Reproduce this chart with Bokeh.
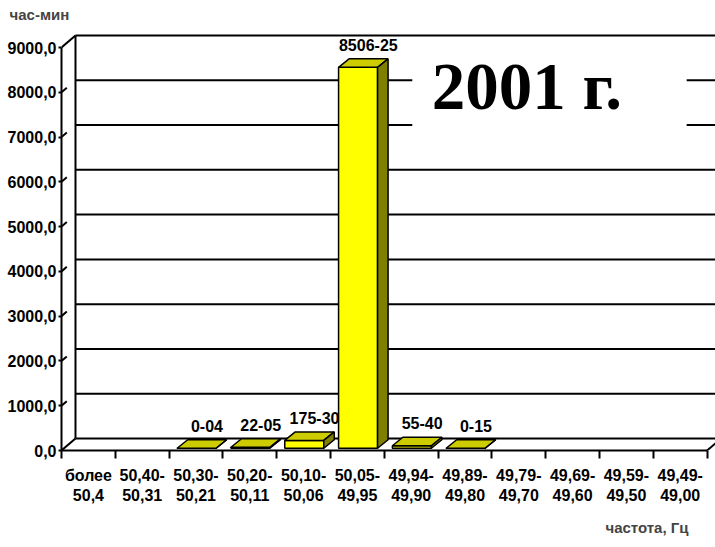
from bokeh.plotting import figure
from bokeh.models import FixedTicker, Label, BoxAnnotation, ColumnDataSource, Range1d, Title
from bokeh.core.properties import value
from bokeh.embed import file_html
from bokeh.resources import INLINE

# frequency bands (two-line category labels)
band_top = ["более", "50,40-", "50,30-", "50,20-", "50,10-", "50,05-",
            "49,94-", "49,89-", "49,79-", "49,69-", "49,59-", "49,49-"]
band_bottom = ["50,4", "50,31", "50,21", "50,11", "50,06", "49,95",
               "49,90", "49,80", "49,70", "49,60", "49,50", "49,00"]

# time spent in each band, hours and minutes (None = no bar)
hours = [None, None, 0, 22, 175, 8506, 55, 0, None, None, None, None]
minutes = [None, None, 4, 5, 30, 25, 40, 15, None, None, None, None]

y_ticks = [0, 1000, 2000, 3000, 4000, 5000, 6000, 7000, 8000, 9000]
y_max = 9000

FONT = "Liberation Sans"

# plot frame: top edge and vertical scale (px per hour)
FRAME_TOP = 24
PX_PER_UNIT = 403 / 9000
FRAME_BOTTOM = 450

# 3-D projection offsets (in data units)
DX, DY = 0.26, 268          # depth of the floor / walls
BX, BY = 0.04, 50           # bar set back from the front plane
BDX, BDY = 0.195, 190       # bar depth
BAR_L, BAR_W = 0.11, 0.725  # bar front face position within its category

n = len(band_top)

p = figure(width=715, height=547, output_backend="svg", toolbar_location=None,
           x_range=Range1d(0, 12.156),
           y_range=Range1d(0, (FRAME_BOTTOM - FRAME_TOP) / PX_PER_UNIT),
           min_border_left=61, min_border_right=0, min_border_top=FRAME_TOP,
           min_border_bottom=547 - FRAME_BOTTOM)
p.outline_line_color = None
p.grid.visible = False
p.background_fill_color = "white"
p.border_fill_color = "white"

# back wall gridlines
p.segment(x0=[DX] * len(y_ticks), y0=[v + DY for v in y_ticks],
          x1=[13.5] * len(y_ticks), y1=[v + DY for v in y_ticks],
          line_color="black", line_width=2)
# back wall left edge
p.segment(x0=[DX], y0=[DY], x1=[DX], y1=[y_max + DY], line_color="black", line_width=2)
# side wall top/bottom edges and floor right edge
p.segment(x0=[0, 0, n], y0=[0, y_max, 0], x1=[DX, DX, n + DX], y1=[DY, y_max + DY, DY],
          line_color="black", line_width=2)
# short diagonal ticks on the side wall
mid = [v for v in y_ticks if 0 < v < y_max]
p.segment(x0=[0] * len(mid), y0=mid, x1=[DX * 0.38] * len(mid), y1=[v + DY * 0.38 for v in mid],
          line_color="black", line_width=2)

# 3-D bars
fx, fy, tx, ty, sx, sy = [], [], [], [], [], []
lab_x, lab_y, lab_t = [], [], []
for i in range(n):
    if hours[i] is None:
        continue
    v = hours[i] + minutes[i] / 60.0
    x0 = i + BAR_L + BX
    x1 = x0 + BAR_W
    y0 = BY
    y1 = BY + v
    fx.append([x0, x1, x1, x0]); fy.append([y0, y0, y1, y1])
    tx.append([x0, x1, x1 + BDX, x0 + BDX]); ty.append([y1, y1, y1 + BDY, y1 + BDY])
    sx.append([x1, x1 + BDX, x1 + BDX, x1]); sy.append([y0, y0 + BDY, y1 + BDY, y1])
    lab_x.append((x0 + x1 + BDX) / 2)
    lab_y.append(y1 + BDY)
    lab_t.append(f"{hours[i]}-{minutes[i]:02d}")

for i in range(len(fx)):
    p.patch(fx[i], fy[i], fill_color="#FFFF00", line_color="black", line_width=1.5)
    p.patch(tx[i], ty[i], fill_color="#CCCC00", line_color="black", line_width=1.5)
    p.patch(sx[i], sy[i], fill_color="#808000", line_color="black", line_width=1.5)

src = ColumnDataSource(dict(x=lab_x, y=lab_y, t=lab_t))
p.text(x="x", y="y", text="t", source=src, text_align="center", text_baseline="bottom",
       x_offset=5, y_offset=-8, text_font=value(FONT), text_font_style="bold",
       text_font_size="16px", text_color="black")

# year caption on a white panel
p.add_layout(BoxAnnotation(left=6.52, right=11.62, bottom=6811, top=8933,
                           fill_color="white", fill_alpha=1, line_color=None))
p.add_layout(Label(x=6.88, y=8150, text="2001 г.", text_baseline="alphabetic",
                   text_font="Liberation Serif", text_font_style="bold",
                   text_font_size="67px", text_color="black"))

# y axis
ya = p.yaxis[0]
ya.ticker = FixedTicker(ticks=y_ticks, minor_ticks=[])
ya.major_label_overrides = {v: f"{v},0" for v in y_ticks}
ya.bounds = (0, y_max)
ya.axis_line_width = 2
ya.major_tick_line_width = 2
ya.major_tick_in = 0
ya.major_tick_out = 3
ya.major_label_standoff = 2
ya.major_label_text_font = FONT
ya.major_label_text_font_style = "bold"
ya.major_label_text_font_size = "16px"
ya.major_label_text_color = "black"

# x axis: labels centred in bands, ticks on band boundaries
xa = p.xaxis[0]
centers = [i + 0.5 for i in range(n)]
xa.ticker = FixedTicker(ticks=centers, minor_ticks=list(range(n + 1)))
xa.major_label_overrides = {c: f"{band_top[i]}\n{band_bottom[i]}" for i, c in enumerate(centers)}
xa.bounds = (0, n)
xa.axis_line_width = 2
xa.major_tick_line_color = None
xa.major_tick_out = 8
xa.major_tick_in = 0
xa.minor_tick_line_width = 2
xa.minor_tick_line_color = "black"
xa.minor_tick_out = 8
xa.minor_tick_in = 0
xa.major_label_standoff = 8
xa.major_label_text_font = FONT
xa.major_label_text_font_style = "bold"
xa.major_label_text_font_size = "16px"
xa.major_label_text_color = "black"

# axis titles
p.add_layout(Title(text="час-мин", align="left", offset=-52, standoff=3,
                   text_font=FONT, text_font_style="bold", text_font_size="15px"), "above")
p.add_layout(Title(text="частота, Гц", align="right", offset=27, standoff=21,
                   text_font=FONT, text_font_style="bold", text_font_size="15px"), "below")

open("out.html", "w").write(file_html(p, INLINE))
